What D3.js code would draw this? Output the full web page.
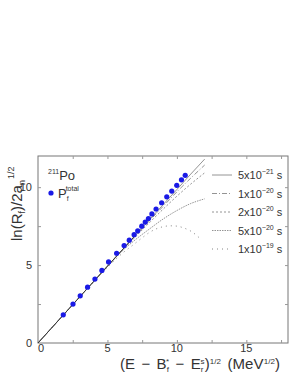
<!DOCTYPE html>
<html>
<head>
<meta charset="utf-8">
<script src="https://cdn.jsdelivr.net/npm/d3@7"></script>
<style>
  body { margin: 0; background: #fff; }
  svg text { font-family: "Liberation Sans", Arial, sans-serif; fill: #333; }
</style>
</head>
<body>
<svg id="chart"></svg>
<script>
// blue points, P_f total
var dotX = [1.82, 2.52, 3.04, 3.57, 4.1, 4.6, 5.08, 5.66, 6.2, 6.57, 6.92, 7.18, 7.47, 7.72, 7.95, 8.2, 8.5, 8.9, 9.27, 9.63, 9.99, 10.33, 10.6];
var dotY = [1.81, 2.5, 3.03, 3.58, 4.1, 4.66, 5.2, 5.76, 6.25, 6.6, 6.95, 7.2, 7.5, 7.76, 7.99, 8.28, 8.6, 9.0, 9.38, 9.75, 10.12, 10.47, 10.76];

// model curves
var curveX = [0, 2, 4, 5, 6, 7, 8, 9, 10, 11, 12];
var y5e21 = [0, 1.97, 3.94, 4.93, 5.91, 6.9, 7.88, 8.87, 9.85, 10.84, 11.8];
var y1e20 = [0, 1.97, 3.94, 4.93, 5.9, 6.86, 7.82, 8.76, 9.7, 10.58, 11.42];
var y2e20 = [0, 1.97, 3.94, 4.92, 5.88, 6.8, 7.7, 8.58, 9.42, 10.2, 10.92];
var y5e20 = [0, 1.97, 3.93, 4.9, 5.85, 6.62, 7.3, 7.95, 8.5, 8.95, 9.25];
var x1e19 = [0, 2, 4, 5, 6, 7, 7.5, 8, 8.5, 9, 9.5, 10, 10.5, 11, 11.7];
var y1e19 = [0, 1.97, 3.92, 4.85, 5.7, 6.4, 6.75, 7.08, 7.32, 7.46, 7.52, 7.5, 7.38, 7.18, 6.68];

var legendLabels = ["5x10", "1x10", "2x10", "5x10", "1x10"];
var legendExp = ["\u221221", "\u221220", "\u221220", "\u221220", "\u221219"];

var xTicks = [0, 5, 10, 15];
var yTicks = [0, 5, 10];

var width = 295, height = 382;
var margin = {top: 156, right: 7, bottom: 39, left: 38};
var iw = width - margin.left - margin.right;
var ih = height - margin.top - margin.bottom;

var svg = d3.select("#chart").attr("width", width).attr("height", height);
var g = svg.append("g").attr("transform", `translate(${margin.left},${margin.top})`);

var x = d3.scaleLinear().domain([0, 18]).range([0, iw]);
var y = d3.scaleLinear().domain([0, 12]).range([ih, 0]);

// frame
g.append("rect").attr("width", iw).attr("height", ih)
  .attr("fill", "none").attr("stroke", "#777").attr("stroke-width", 1);

// inward ticks every 2.5 on all sides
var minor = d3.range(2.5, 18, 2.5);
var minorY = d3.range(2.5, 12, 2.5);
g.append("g").attr("transform", `translate(0,${ih})`)
  .call(d3.axisTop(x).tickValues(minor).tickSize(3).tickFormat(""));
g.append("g")
  .call(d3.axisBottom(x).tickValues(minor).tickSize(3).tickFormat(""));
g.append("g")
  .call(d3.axisRight(y).tickValues(minorY).tickSize(3).tickFormat(""));
g.append("g").attr("transform", `translate(${iw},0)`)
  .call(d3.axisLeft(y).tickValues(minorY).tickSize(3).tickFormat(""));
g.selectAll(".domain").remove();
g.selectAll(".tick line").attr("stroke", "#999");

// tick labels
g.selectAll(".xl").data(xTicks).enter().append("text")
  .attr("x", d => x(d)).attr("y", ih + 9)
  .attr("text-anchor", d => d == 0 ? "start" : "middle")
  .attr("font-size", 11).text(d => d);
g.selectAll(".yl").data(yTicks).enter().append("text")
  .attr("x", -6).attr("y", d => y(d) + 4)
  .attr("text-anchor", "end")
  .attr("font-size", 11).text(d => d);

// curves
var line = d3.line().curve(d3.curveMonotoneX);
var series = [
  {xs: curveX, ys: y5e21, dash: null, color: "#888"},
  {xs: curveX, ys: y1e20, dash: "5,2,1,2", color: "#888"},
  {xs: curveX, ys: y2e20, dash: "2,2", color: "#888"},
  {xs: curveX, ys: y5e20, dash: "1.5,1", color: "#888"},
  {xs: x1e19, ys: y1e19, dash: "1,4", color: "#777"}
];
series.forEach(function(s) {
  var pts = s.xs.map((v, i) => [x(v), y(s.ys[i])]);
  g.append("path").attr("d", line(pts))
    .attr("fill", "none").attr("stroke", s.color).attr("stroke-width", 0.9)
    .attr("stroke-dasharray", s.dash);
});
// dark line near origin
g.append("path").attr("d", line(curveX.slice(0, 6).map((v, i) => [x(v), y(y5e21[i])])))
  .attr("fill", "none").attr("stroke", "#222").attr("stroke-width", 0.8);

// dots
g.selectAll("circle.dot").data(dotX).enter().append("circle")
  .attr("cx", d => x(d)).attr("cy", (d, i) => y(dotY[i]))
  .attr("r", 2.6).attr("fill", "#1a1ae6");

// legend
var lg = svg.append("g");
series.forEach(function(s, i) {
  var yy = 175 + i * 18.5;
  lg.append("line").attr("x1", 212).attr("x2", 232).attr("y1", yy).attr("y2", yy)
    .attr("stroke", s.color).attr("stroke-width", 0.9).attr("stroke-dasharray", s.dash);
  var t = lg.append("text").attr("x", 238).attr("y", yy + 4).attr("font-size", 11);
  t.append("tspan").text(legendLabels[i]);
  t.append("tspan").attr("dy", -5).attr("font-size", 7).text(legendExp[i]);
  t.append("tspan").attr("dy", 5).attr("font-size", 11).text(" s");
});

// isotope label
var iso = svg.append("text").attr("x", 48).attr("y", 180).attr("font-size", 13);
iso.append("tspan").attr("font-size", 7).attr("dy", -6).text("211");
iso.append("tspan").attr("dy", 6).text("Po");
svg.append("circle").attr("cx", 51).attr("cy", 193).attr("r", 2.6).attr("fill", "#1a1ae6");
var pf = svg.append("text").attr("x", 58).attr("y", 198).attr("font-size", 13);
pf.append("tspan").text("P");
pf.append("tspan").attr("font-size", 7).attr("dy", 3).text("f");
pf.append("tspan").attr("font-size", 7).attr("dx", -3).attr("dy", -10).text("total");

// y label
var yl = svg.append("text")
  .attr("transform", "translate(22,241) rotate(-90)")
  .attr("font-size", 15);
yl.append("tspan").text("ln(R");
yl.append("tspan").attr("font-size", 9).attr("dy", 3).text("f");
yl.append("tspan").attr("dy", -3).text(")/2a");
yl.append("tspan").attr("font-size", 9).attr("dy", 3).text("n");
yl.append("tspan").attr("font-size", 9).attr("dx", 1).attr("dy", -11).text("1/2");

// x label
var xl = svg.append("text").attr("x", 120).attr("y", 369).attr("font-size", 15)
  .attr("word-spacing", 2).attr("letter-spacing", 0.1);
xl.append("tspan").text("(E \u2212 B");
xl.append("tspan").attr("font-size", 8).attr("dy", 3).text("f");
xl.append("tspan").attr("font-size", 8).attr("dx", -3).attr("dy", -8).text("*");
xl.append("tspan").attr("dy", 5).text(" \u2212 E");
xl.append("tspan").attr("font-size", 8).attr("dy", 3).text("r");
xl.append("tspan").attr("font-size", 8).attr("dx", -3).attr("dy", -8).text("s");
xl.append("tspan").attr("dy", 5).text(")");
xl.append("tspan").attr("font-size", 8).attr("dy", -5).text("1/2");
xl.append("tspan").attr("dy", 5).text(" (MeV");
xl.append("tspan").attr("font-size", 8).attr("dy", -5).text("1/2");
xl.append("tspan").attr("dy", 5).text(")");
</script>
</body>
</html>
